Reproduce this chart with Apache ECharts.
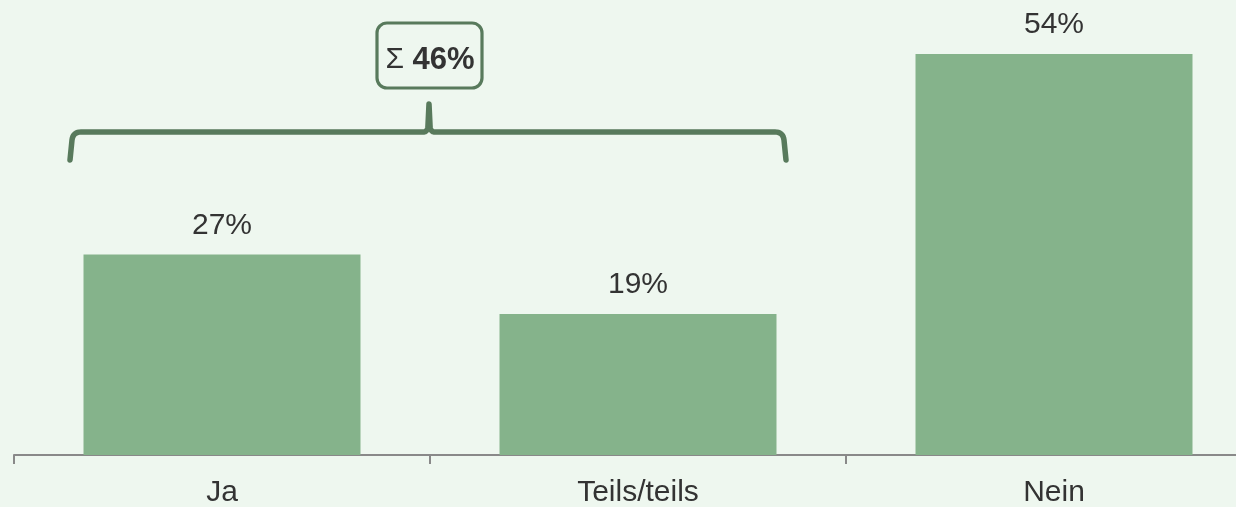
<!DOCTYPE html>
<html>
<head>
<meta charset="utf-8">
<script src="https://cdn.jsdelivr.net/npm/echarts@6/dist/echarts.min.js"></script>
<style>
html,body{margin:0;padding:0;background:#eef7ef;}
#c{width:1236px;height:507px;}
</style>
</head>
<body>
<div id="c"></div>
<script>
const categories = ['Ja', 'Teils/teils', 'Nein'];
const values = [27, 19, 54];
const sumLabel = '46%';

const chart = echarts.init(document.getElementById('c'), null, {renderer: 'canvas'});
const FONT = '"Liberation Sans", Arial, sans-serif';
const GREEN_DARK = '#587a5c';

chart.setOption({
  backgroundColor: '#eef7ef',
  animation: false,
  grid: {left: 14, width: 1248, top: 54, bottom: 52, containLabel: false, outerBoundsMode: 'none'},
  xAxis: {
    type: 'category',
    data: categories,
    axisLine: {show: true, lineStyle: {color: '#898989', width: 2}},
    axisTick: {show: true, length: 9, lineStyle: {color: '#898989', width: 2}},
    axisLabel: {color: '#333', fontSize: 30, fontFamily: FONT, margin: 23}
  },
  yAxis: {
    type: 'value', min: 0, max: 54, show: false,
    splitLine: {show: false}
  },
  series: [{
    type: 'bar',
    data: values,
    barWidth: 277,
    itemStyle: {color: '#85b38b'},
    label: {
      show: true, position: 'top', distance: 14,
      formatter: '{c}%', color: '#333', fontSize: 30, fontFamily: FONT
    }
  }]
});

// bracket annotation positioned relative to the first two categories
const c1 = chart.convertToPixel({xAxisIndex: 0}, categories[0]);
const c2 = chart.convertToPixel({xAxisIndex: 0}, categories[1]);
const L = c1 - 152, R = c2 + 148, M = (c1 + c2) / 2 - 1;
const H = 132, E = 160, T = 104;

function quad(pts, p0, p1, p2, n) {
  for (let i = 1; i <= n; i++) {
    const t = i / n, u = 1 - t;
    pts.push([u * u * p0[0] + 2 * u * t * p1[0] + t * t * p2[0],
              u * u * p0[1] + 2 * u * t * p1[1] + t * t * p2[1]]);
  }
}
const pts = [[L, E], [L + 2, H + 8]];
quad(pts, [L + 2, H + 8], [L + 3, H], [L + 11, H], 8);
pts.push([M - 6, H]);
quad(pts, [M - 6, H], [M - 1, H], [M - 1, H - 7], 8);
pts.push([M, T]);
pts.push([M + 1, H - 7]);
quad(pts, [M + 1, H - 7], [M + 1, H], [M + 6, H], 8);
pts.push([R - 11, H]);
quad(pts, [R - 11, H], [R - 3, H], [R - 2, H + 8], 8);
pts.push([R, E]);

chart.setOption({
  graphic: [
    {
      type: 'polyline',
      shape: {points: pts},
      style: {fill: null, stroke: GREEN_DARK, lineWidth: 5.5, lineCap: 'round', lineJoin: 'round'},
      z: 10
    },
    {
      type: 'rect',
      shape: {x: M - 52, y: 23, width: 105, height: 65, r: 10},
      style: {fill: 'rgba(0,0,0,0)', stroke: GREEN_DARK, lineWidth: 3.2},
      z: 10
    },
    {
      type: 'text',
      x: M + 1, y: 60,
      style: {
        text: '{s|Σ} {b|' + sumLabel + '}',
        align: 'center', verticalAlign: 'middle',
        rich: {
          s: {fontSize: 30, fontFamily: FONT, fill: '#333'},
          b: {fontSize: 31, fontWeight: 'bold', fontFamily: FONT, fill: '#333'}
        },
        fontSize: 30, fontFamily: FONT, fill: '#333'
      },
      z: 11
    }
  ]
});
</script>
</body>
</html>
